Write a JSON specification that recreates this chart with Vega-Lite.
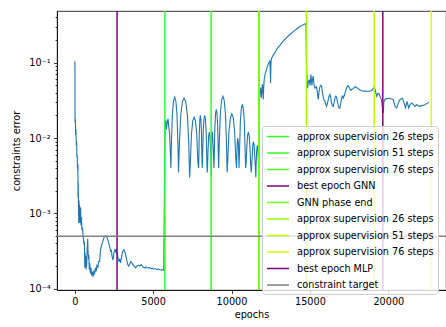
{
  "$schema": "https://vega.github.io/schema/vega-lite/v6.json",
  "width": 389,
  "height": 279,
  "autosize": {"type": "none"},
  "padding": {"left": 57, "top": 11, "right": 0, "bottom": 37},
  "background": "white",
  "config": {
    "view": {"stroke": "black", "strokeWidth": 0.8},
    "axis": {
      "grid": false,
      "domainColor": "black",
      "domainWidth": 0.8,
      "tickColor": "black",
      "tickWidth": 0.8,
      "tickSize": 3.4,
      "labelFont": "DejaVu Sans",
      "labelFontSize": 9.7,
      "labelColor": "black",
      "labelPadding": 3.4,
      "labelFlush": false,
      "labelOverlap": false,
      "titleFont": "DejaVu Sans",
      "titleFontSize": 9.7,
      "titleFontWeight": "normal",
      "titleColor": "black"
    }
  },
  "datasets": {
    "curve": [
      {"epoch": 0, "error": 0.105}, {"epoch": 15, "error": 0.1}, {"epoch": 20, "error": 0.016}, {"epoch": 40, "error": 0.018},
      {"epoch": 60, "error": 0.011}, {"epoch": 80, "error": 0.013}, {"epoch": 100, "error": 0.008}, {"epoch": 120, "error": 0.009},
      {"epoch": 140, "error": 0.0055}, {"epoch": 160, "error": 0.006}, {"epoch": 180, "error": 0.0038}, {"epoch": 200, "error": 0.0045},
      {"epoch": 212, "error": 0.0016}, {"epoch": 225, "error": 0.0026}, {"epoch": 240, "error": 0.0012}, {"epoch": 255, "error": 0.00075},
      {"epoch": 270, "error": 0.0015}, {"epoch": 290, "error": 0.0011}, {"epoch": 310, "error": 0.0013}, {"epoch": 330, "error": 0.00075},
      {"epoch": 350, "error": 0.0009}, {"epoch": 380, "error": 0.0012}, {"epoch": 400, "error": 0.0007}, {"epoch": 430, "error": 0.0009},
      {"epoch": 460, "error": 0.0006}, {"epoch": 500, "error": 0.00065}, {"epoch": 530, "error": 0.00052}, {"epoch": 560, "error": 0.00045},
      {"epoch": 600, "error": 0.00038}, {"epoch": 620, "error": 0.00042}, {"epoch": 640, "error": 0.00019}, {"epoch": 660, "error": 0.0003},
      {"epoch": 680, "error": 0.00022}, {"epoch": 700, "error": 0.00027}, {"epoch": 720, "error": 0.00018}, {"epoch": 740, "error": 0.00021},
      {"epoch": 760, "error": 0.0002}, {"epoch": 780, "error": 0.00028}, {"epoch": 800, "error": 0.00036}, {"epoch": 830, "error": 0.00046},
      {"epoch": 850, "error": 0.00032}, {"epoch": 880, "error": 0.00025}, {"epoch": 900, "error": 0.00028}, {"epoch": 930, "error": 0.00018},
      {"epoch": 960, "error": 0.00022}, {"epoch": 1000, "error": 0.00016}, {"epoch": 1040, "error": 0.00019}, {"epoch": 1080, "error": 0.00015},
      {"epoch": 1120, "error": 0.00017}, {"epoch": 1170, "error": 0.000145}, {"epoch": 1220, "error": 0.00017}, {"epoch": 1270, "error": 0.00016},
      {"epoch": 1320, "error": 0.00019}, {"epoch": 1370, "error": 0.00017}, {"epoch": 1420, "error": 0.00021}, {"epoch": 1470, "error": 0.00019},
      {"epoch": 1530, "error": 0.00023}, {"epoch": 1590, "error": 0.00023}, {"epoch": 1620, "error": 0.00028}, {"epoch": 1660, "error": 0.00034},
      {"epoch": 1700, "error": 0.00037}, {"epoch": 1750, "error": 0.0004}, {"epoch": 1800, "error": 0.00043}, {"epoch": 1870, "error": 0.00048},
      {"epoch": 1950, "error": 0.0005}, {"epoch": 2020, "error": 0.0005}, {"epoch": 2080, "error": 0.00047}, {"epoch": 2150, "error": 0.00042},
      {"epoch": 2230, "error": 0.00036}, {"epoch": 2300, "error": 0.00031}, {"epoch": 2335, "error": 0.00033}, {"epoch": 2380, "error": 0.00027},
      {"epoch": 2442, "error": 0.00024}, {"epoch": 2500, "error": 0.0003}, {"epoch": 2560, "error": 0.00033}, {"epoch": 2620, "error": 0.00031},
      {"epoch": 2654, "error": 0.00034}, {"epoch": 2700, "error": 0.0003}, {"epoch": 2760, "error": 0.00026}, {"epoch": 2820, "error": 0.00023},
      {"epoch": 2866, "error": 0.00025}, {"epoch": 2920, "error": 0.00022}, {"epoch": 2980, "error": 0.00026}, {"epoch": 3050, "error": 0.00031},
      {"epoch": 3120, "error": 0.00033}, {"epoch": 3185, "error": 0.00032}, {"epoch": 3250, "error": 0.00028}, {"epoch": 3320, "error": 0.00024},
      {"epoch": 3380, "error": 0.00021}, {"epoch": 3440, "error": 0.0002}, {"epoch": 3500, "error": 0.00021}, {"epoch": 3580, "error": 0.00023},
      {"epoch": 3650, "error": 0.00022}, {"epoch": 3715, "error": 0.00021}, {"epoch": 3800, "error": 0.0002}, {"epoch": 3880, "error": 0.00019},
      {"epoch": 3950, "error": 0.0002}, {"epoch": 4050, "error": 0.000205}, {"epoch": 4150, "error": 0.0002}, {"epoch": 4246, "error": 0.00021},
      {"epoch": 4350, "error": 0.000195}, {"epoch": 4450, "error": 0.00019}, {"epoch": 4550, "error": 0.000195}, {"epoch": 4650, "error": 0.000188},
      {"epoch": 4750, "error": 0.000192}, {"epoch": 4850, "error": 0.000185}, {"epoch": 4950, "error": 0.000188}, {"epoch": 5050, "error": 0.000182},
      {"epoch": 5150, "error": 0.000186}, {"epoch": 5250, "error": 0.00018}, {"epoch": 5350, "error": 0.000183}, {"epoch": 5450, "error": 0.000178},
      {"epoch": 5550, "error": 0.00018}, {"epoch": 5680, "error": 0.000175},
      {"epoch": 5760, "error": 0.016}, {"epoch": 5800, "error": 0.0175}, {"epoch": 5850, "error": 0.013}, {"epoch": 5900, "error": 0.0165},
      {"epoch": 5950, "error": 0.018}, {"epoch": 6000, "error": 0.014}, {"epoch": 6050, "error": 0.0115}, {"epoch": 6090, "error": 0.007},
      {"epoch": 6130, "error": 0.004}, {"epoch": 6169, "error": 0.0088}, {"epoch": 6228, "error": 0.0207}, {"epoch": 6302, "error": 0.0312},
      {"epoch": 6375, "error": 0.035}, {"epoch": 6449, "error": 0.0312}, {"epoch": 6522, "error": 0.0207}, {"epoch": 6581, "error": 0.0088},
      {"epoch": 6620, "error": 0.0035}, {"epoch": 6677, "error": 0.0085}, {"epoch": 6762, "error": 0.0201}, {"epoch": 6869, "error": 0.0303},
      {"epoch": 6975, "error": 0.034}, {"epoch": 7082, "error": 0.0303}, {"epoch": 7188, "error": 0.0201}, {"epoch": 7273, "error": 0.0085},
      {"epoch": 7330, "error": 0.003}, {"epoch": 7376, "error": 0.0048}, {"epoch": 7444, "error": 0.0112}, {"epoch": 7530, "error": 0.0169},
      {"epoch": 7615, "error": 0.019}, {"epoch": 7700, "error": 0.0169}, {"epoch": 7786, "error": 0.0112}, {"epoch": 7854, "error": 0.0048},
      {"epoch": 7900, "error": 0.004}, {"epoch": 7918, "error": 0.0055}, {"epoch": 7946, "error": 0.0118}, {"epoch": 7981, "error": 0.0178},
      {"epoch": 8015, "error": 0.02}, {"epoch": 8050, "error": 0.0178}, {"epoch": 8084, "error": 0.0118}, {"epoch": 8112, "error": 0.0055},
      {"epoch": 8130, "error": 0.004}, {"epoch": 8156, "error": 0.0055}, {"epoch": 8194, "error": 0.0118}, {"epoch": 8242, "error": 0.0178},
      {"epoch": 8290, "error": 0.02}, {"epoch": 8338, "error": 0.0178}, {"epoch": 8386, "error": 0.0118}, {"epoch": 8424, "error": 0.005},
      {"epoch": 8450, "error": 0.0035}, {"epoch": 8472, "error": 0.0042}, {"epoch": 8504, "error": 0.0071}, {"epoch": 8545, "error": 0.0107},
      {"epoch": 8585, "error": 0.012}, {"epoch": 8626, "error": 0.0107}, {"epoch": 8666, "error": 0.0071}, {"epoch": 8698, "error": 0.0042},
      {"epoch": 8720, "error": 0.003}, {"epoch": 8740, "error": 0.0125}, {"epoch": 8790, "error": 0.0115}, {"epoch": 8840, "error": 0.007},
      {"epoch": 8880, "error": 0.004}, {"epoch": 8904, "error": 0.006}, {"epoch": 8940, "error": 0.0142}, {"epoch": 8985, "error": 0.0214},
      {"epoch": 9030, "error": 0.024}, {"epoch": 9075, "error": 0.0214}, {"epoch": 9120, "error": 0.0142}, {"epoch": 9156, "error": 0.006},
      {"epoch": 9180, "error": 0.004}, {"epoch": 9223, "error": 0.009}, {"epoch": 9288, "error": 0.0212}, {"epoch": 9369, "error": 0.032},
      {"epoch": 9450, "error": 0.036}, {"epoch": 9531, "error": 0.032}, {"epoch": 9612, "error": 0.0212}, {"epoch": 9677, "error": 0.009},
      {"epoch": 9720, "error": 0.0035}, {"epoch": 9768, "error": 0.0053}, {"epoch": 9840, "error": 0.0124}, {"epoch": 9930, "error": 0.0187},
      {"epoch": 10020, "error": 0.021}, {"epoch": 10110, "error": 0.0187}, {"epoch": 10200, "error": 0.0124}, {"epoch": 10272, "error": 0.0053},
      {"epoch": 10320, "error": 0.004}, {"epoch": 10340, "error": 0.0059}, {"epoch": 10370, "error": 0.0089}, {"epoch": 10400, "error": 0.01},
      {"epoch": 10430, "error": 0.0089}, {"epoch": 10460, "error": 0.0059}, {"epoch": 10480, "error": 0.004}, {"epoch": 10514, "error": 0.007},
      {"epoch": 10564, "error": 0.0165}, {"epoch": 10627, "error": 0.0249}, {"epoch": 10690, "error": 0.028}, {"epoch": 10753, "error": 0.0249},
      {"epoch": 10816, "error": 0.0165}, {"epoch": 10866, "error": 0.007}, {"epoch": 10900, "error": 0.004}, {"epoch": 10928, "error": 0.0045},
      {"epoch": 10970, "error": 0.0071}, {"epoch": 11023, "error": 0.0107}, {"epoch": 11075, "error": 0.012}, {"epoch": 11128, "error": 0.0107},
      {"epoch": 11180, "error": 0.0071}, {"epoch": 11222, "error": 0.0045}, {"epoch": 11250, "error": 0.0035}, {"epoch": 11274, "error": 0.004},
      {"epoch": 11310, "error": 0.0053}, {"epoch": 11355, "error": 0.008}, {"epoch": 11400, "error": 0.009}, {"epoch": 11445, "error": 0.008},
      {"epoch": 11490, "error": 0.0053}, {"epoch": 11526, "error": 0.004}, {"epoch": 11550, "error": 0.003}, {"epoch": 11570, "error": 0.0045},
      {"epoch": 11600, "error": 0.0065}, {"epoch": 11645, "error": 0.008}, {"epoch": 11690, "error": 0.0065}, {"epoch": 11720, "error": 0.0045},
      {"epoch": 11745, "error": 0.004},
      {"epoch": 11766, "error": 0.031}, {"epoch": 11810, "error": 0.04}, {"epoch": 11853, "error": 0.047}, {"epoch": 11900, "error": 0.034},
      {"epoch": 11940, "error": 0.045}, {"epoch": 11978, "error": 0.052}, {"epoch": 12020, "error": 0.0325}, {"epoch": 12050, "error": 0.045},
      {"epoch": 12085, "error": 0.06}, {"epoch": 12140, "error": 0.07}, {"epoch": 12193, "error": 0.077}, {"epoch": 12240, "error": 0.083},
      {"epoch": 12300, "error": 0.09}, {"epoch": 12340, "error": 0.096}, {"epoch": 12385, "error": 0.1}, {"epoch": 12447, "error": 0.105},
      {"epoch": 12470, "error": 0.08}, {"epoch": 12490, "error": 0.054}, {"epoch": 12510, "error": 0.09}, {"epoch": 12532, "error": 0.11},
      {"epoch": 12600, "error": 0.12}, {"epoch": 12680, "error": 0.128}, {"epoch": 12766, "error": 0.136}, {"epoch": 12900, "error": 0.153},
      {"epoch": 13085, "error": 0.17}, {"epoch": 13300, "error": 0.193}, {"epoch": 13511, "error": 0.215}, {"epoch": 13720, "error": 0.237},
      {"epoch": 13937, "error": 0.259}, {"epoch": 14150, "error": 0.281}, {"epoch": 14362, "error": 0.302}, {"epoch": 14550, "error": 0.318},
      {"epoch": 14745, "error": 0.333},
      {"epoch": 14787, "error": 0.0858}, {"epoch": 14820, "error": 0.06}, {"epoch": 14850, "error": 0.046}, {"epoch": 14900, "error": 0.055},
      {"epoch": 14956, "error": 0.06}, {"epoch": 15010, "error": 0.05}, {"epoch": 15064, "error": 0.07}, {"epoch": 15100, "error": 0.058},
      {"epoch": 15128, "error": 0.05}, {"epoch": 15170, "error": 0.06}, {"epoch": 15213, "error": 0.0664}, {"epoch": 15270, "error": 0.05},
      {"epoch": 15319, "error": 0.046}, {"epoch": 15370, "error": 0.047}, {"epoch": 15425, "error": 0.048}, {"epoch": 15480, "error": 0.04},
      {"epoch": 15532, "error": 0.0325}, {"epoch": 15585, "error": 0.042}, {"epoch": 15638, "error": 0.048}, {"epoch": 15690, "error": 0.05},
      {"epoch": 15745, "error": 0.049}, {"epoch": 15800, "error": 0.04}, {"epoch": 15851, "error": 0.035}, {"epoch": 15900, "error": 0.032},
      {"epoch": 15957, "error": 0.031}, {"epoch": 16010, "error": 0.028}, {"epoch": 16064, "error": 0.0264}, {"epoch": 16120, "error": 0.029},
      {"epoch": 16170, "error": 0.0325}, {"epoch": 16220, "error": 0.036}, {"epoch": 16277, "error": 0.038}, {"epoch": 16330, "error": 0.034},
      {"epoch": 16380, "error": 0.029}, {"epoch": 16440, "error": 0.027}, {"epoch": 16490, "error": 0.0264}, {"epoch": 16550, "error": 0.03},
      {"epoch": 16600, "error": 0.034}, {"epoch": 16650, "error": 0.036}, {"epoch": 16702, "error": 0.035}, {"epoch": 16760, "error": 0.03},
      {"epoch": 16810, "error": 0.027}, {"epoch": 16860, "error": 0.025}, {"epoch": 16915, "error": 0.0251}, {"epoch": 16970, "error": 0.029},
      {"epoch": 17020, "error": 0.034}, {"epoch": 17070, "error": 0.036}, {"epoch": 17128, "error": 0.034}, {"epoch": 17200, "error": 0.037},
      {"epoch": 17290, "error": 0.043}, {"epoch": 17370, "error": 0.048}, {"epoch": 17447, "error": 0.0499}, {"epoch": 17530, "error": 0.046},
      {"epoch": 17600, "error": 0.0432}, {"epoch": 17680, "error": 0.0445}, {"epoch": 17766, "error": 0.0451}, {"epoch": 17850, "error": 0.048},
      {"epoch": 17930, "error": 0.0479}, {"epoch": 18000, "error": 0.0465}, {"epoch": 18085, "error": 0.0451}, {"epoch": 18200, "error": 0.0435},
      {"epoch": 18300, "error": 0.0425}, {"epoch": 18404, "error": 0.0419}, {"epoch": 18550, "error": 0.042}, {"epoch": 18700, "error": 0.0419},
      {"epoch": 18830, "error": 0.0419}, {"epoch": 18950, "error": 0.0432}, {"epoch": 19060, "error": 0.046}, {"epoch": 19107, "error": 0.0479},
      {"epoch": 19180, "error": 0.042}, {"epoch": 19256, "error": 0.0359}, {"epoch": 19330, "error": 0.039}, {"epoch": 19400, "error": 0.039},
      {"epoch": 19469, "error": 0.036}, {"epoch": 19560, "error": 0.0325}, {"epoch": 19640, "error": 0.024}, {"epoch": 19681, "error": 0.0216},
      {"epoch": 19720, "error": 0.03}, {"epoch": 19800, "error": 0.0332}, {"epoch": 19894, "error": 0.0332}, {"epoch": 20000, "error": 0.0335},
      {"epoch": 20100, "error": 0.0338}, {"epoch": 20200, "error": 0.033}, {"epoch": 20320, "error": 0.0325}, {"epoch": 20420, "error": 0.0264},
      {"epoch": 20532, "error": 0.0251}, {"epoch": 20640, "error": 0.0293}, {"epoch": 20750, "error": 0.0325}, {"epoch": 20915, "error": 0.0338},
      {"epoch": 21000, "error": 0.0293}, {"epoch": 21100, "error": 0.0251}, {"epoch": 21200, "error": 0.0308}, {"epoch": 21300, "error": 0.0251},
      {"epoch": 21400, "error": 0.028}, {"epoch": 21490, "error": 0.0293}, {"epoch": 21600, "error": 0.0279}, {"epoch": 21700, "error": 0.0264},
      {"epoch": 21809, "error": 0.0279}, {"epoch": 21950, "error": 0.0264}, {"epoch": 22128, "error": 0.027}, {"epoch": 22300, "error": 0.0275},
      {"epoch": 22450, "error": 0.0287}, {"epoch": 22596, "error": 0.0299}
    ],
    "markers": [
      {"series": "GNN: approx supervision 26 steps", "epoch": 5750},
      {"series": "GNN: approx supervision 51 steps", "epoch": 8700},
      {"series": "GNN: approx supervision 76 steps", "epoch": 11750},
      {"series": "GNN: best epoch GNN", "epoch": 2700},
      {"series": "GNN: GNN phase end", "epoch": 11750},
      {"series": "MLP: approx supervision 26 steps", "epoch": 14780},
      {"series": "MLP: approx supervision 51 steps", "epoch": 19100},
      {"series": "MLP: approx supervision 76 steps", "epoch": 22740},
      {"series": "MLP: best epoch MLP", "epoch": 19650}
    ],
    "target": [
      {"series": "constraint target", "error": 0.0005}
    ]
  },
  "encoding": {
    "x": {
      "field": "epoch",
      "type": "quantitative",
      "title": "epochs",
      "scale": {"domain": [-1130, 23680], "nice": false, "zero": false},
      "axis": {"values": [0, 5000, 10000, 15000, 20000], "format": "d", "titlePadding": 3}
    }
  },
  "layer": [
    {
      "data": {"name": "curve"},
      "mark": {"type": "line", "color": "#1f77b4", "strokeWidth": 1.1, "clip": true},
      "encoding": {
        "y": {
          "field": "error",
          "type": "quantitative",
          "title": "constraints error",
          "scale": {"type": "log", "domain": [0.0000965, 0.486], "nice": false},
          "axis": {
            "values": [0.0001, 0.0002, 0.0003, 0.0004, 0.0005, 0.0006, 0.0007, 0.0008, 0.0009,
                       0.001, 0.002, 0.003, 0.004, 0.005, 0.006, 0.007, 0.008, 0.009,
                       0.01, 0.02, 0.03, 0.04, 0.05, 0.06, 0.07, 0.08, 0.09,
                       0.1, 0.2, 0.3, 0.4],
            "labelExpr": "datum.value === 0.1 ? '10⁻¹' : datum.value === 0.01 ? '10⁻²' : datum.value === 0.001 ? '10⁻³' : datum.value === 0.0001 ? '10⁻⁴' : ''",
            "tickSize": {"condition": {"test": "indexof([0.1, 0.01, 0.001, 0.0001], datum.value) >= 0", "value": 3.4}, "value": 1.9},
            "titlePadding": 7
          }
        }
      }
    },
    {
      "data": {"name": "markers"},
      "mark": {"type": "rule", "clip": true},
      "encoding": {
        "color": {
          "field": "series",
          "type": "nominal",
          "scale": {
            "domain": [
              "GNN: approx supervision 26 steps", "GNN: approx supervision 51 steps", "GNN: approx supervision 76 steps",
              "GNN: best epoch GNN", "GNN: GNN phase end",
              "MLP: approx supervision 26 steps", "MLP: approx supervision 51 steps", "MLP: approx supervision 76 steps",
              "MLP: best epoch MLP", "constraint target"
            ],
            "range": ["#2bff2b", "#33ff22", "#44ff1a", "#800080", "#77ff11", "#99ff00", "#bbff00", "#ddff00", "#800080", "#808080"]
          },
          "legend": {
            "title": null,
            "orient": "none",
            "legendX": 205,
            "legendY": 115,
            "fillColor": "rgba(255,255,255,0.8)",
            "strokeColor": "#cccccc",
            "cornerRadius": 3,
            "padding": 4,
            "labelFont": "DejaVu Sans",
            "labelFontSize": 9.7,
            "labelColor": "black",
            "labelLimit": 0,
            "symbolType": "M-1,0H3",
            "symbolSize": 121,
            "rowPadding": 4.5,
            "labelOffset": 18,
            "labelExpr": "replace(datum.label, regexp('^(GNN|MLP): '), '')"
          }
        },
        "strokeWidth": {
          "field": "series",
          "type": "nominal",
          "scale": {
            "domain": [
              "GNN: approx supervision 26 steps", "GNN: approx supervision 51 steps", "GNN: approx supervision 76 steps",
              "GNN: best epoch GNN", "GNN: GNN phase end",
              "MLP: approx supervision 26 steps", "MLP: approx supervision 51 steps", "MLP: approx supervision 76 steps",
              "MLP: best epoch MLP", "constraint target"
            ],
            "range": [1.5, 1.5, 1.5, 1.5, 1.5, 1.5, 1.5, 1.5, 1.5, 0.8]
          }
        }
      }
    },
    {
      "data": {"name": "target"},
      "mark": {"type": "rule", "clip": true},
      "encoding": {
        "x": null,
        "y": {"field": "error", "type": "quantitative"},
        "color": {"field": "series", "type": "nominal"},
        "strokeWidth": {"field": "series", "type": "nominal"}
      }
    }
  ]
}
